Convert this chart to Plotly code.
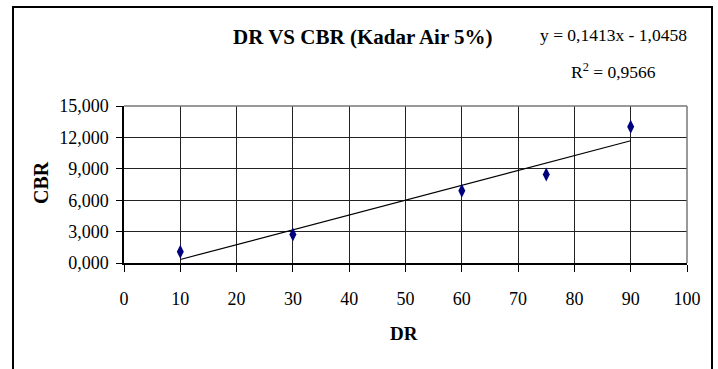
import numpy as np
import plotly.graph_objects as go

# ---- data ----
dr_values = [10, 30, 60, 75, 90]
cbr_values = [1.08, 2.72, 6.90, 8.45, 13.02]
x_ticks = [0, 10, 20, 30, 40, 50, 60, 70, 80, 90, 100]
y_ticks = [0, 3, 6, 9, 12, 15]
title_text = "DR VS CBR (Kadar Air 5%)"
equation_text = "y = 0,1413x - 1,0458"
r2_text = "R<sup>2</sup> = 0,9566"

W, H = 718, 369
L, R, T, B = 124, 31, 106, 106
PW, PH = W - L - R, H - T - B


def px(x):
    return (x - L) / PW


def py(y):
    return (H - B - y) / PH


slope, intercept = np.polyfit(dr_values, cbr_values, 1)
fit_x = [min(dr_values), max(dr_values)]
fit_y = [slope * v + intercept for v in fit_x]

font = "Liberation Serif, Times New Roman, serif"

fig = go.Figure()
fig.add_trace(go.Scatter(x=fit_x, y=fit_y, mode="lines",
                         line=dict(color="black", width=1.2),
                         hoverinfo="skip", showlegend=False))
fig.add_trace(go.Scatter(x=dr_values, y=cbr_values, mode="markers",
                         marker=dict(symbol="diamond-tall", size=10, color="#00007f"),
                         showlegend=False))

fig.update_layout(
    width=W, height=H,
    margin=dict(l=L, r=R, t=T, b=B, autoexpand=False),
    paper_bgcolor="white", plot_bgcolor="white",
    separators=",.",
    font=dict(family=font, size=18, color="black"),
    xaxis=dict(range=[0, 100], tickvals=x_ticks, showgrid=True,
               gridcolor="#222", gridwidth=1, showline=True,
               linecolor="black", linewidth=1.5, ticks="outside",
               ticklen=7, tickcolor="black", ticklabelstandoff=12,
               zeroline=False, fixedrange=True, automargin=False),
    yaxis=dict(range=[0, 15], tickvals=y_ticks, tickformat=".3f",
               showgrid=True, gridcolor="#222", gridwidth=1,
               showline=True, linecolor="black", linewidth=1.5,
               ticks="outside", ticklen=6, tickcolor="black",
               ticklabelstandoff=4, zeroline=False, fixedrange=True,
               automargin=False),
    shapes=[dict(type="rect", xref="paper", yref="paper",
                 x0=px(13), x1=px(712), y0=py(7), y1=py(390),
                 line=dict(color="black", width=2), layer="below"),
            dict(type="line", xref="paper", yref="paper",
                 x0=0, x1=1, y0=1, y1=1, line=dict(color="#777", width=1.5)),
            dict(type="line", xref="paper", yref="paper",
                 x0=1, x1=1, y0=0, y1=1, line=dict(color="#777", width=1.5))],
    annotations=[
        dict(text=f"<b>{title_text}</b>", xref="paper", yref="paper",
             x=px(363), y=py(37), xanchor="center", yanchor="middle",
             showarrow=False, font=dict(size=21, family=font)),
        dict(text=equation_text, xref="paper", yref="paper",
             x=px(689), y=py(35), xanchor="right", yanchor="middle",
             showarrow=False, font=dict(size=17.5, family=font)),
        dict(text=r2_text, xref="paper", yref="paper",
             x=px(658), y=py(71), xanchor="right", yanchor="middle",
             showarrow=False, font=dict(size=17.5, family=font)),
        dict(text="<b>DR</b>", xref="paper", yref="paper",
             x=px(404), y=py(333), xanchor="center", yanchor="middle",
             showarrow=False, font=dict(size=19, family=font)),
        dict(text="<b>CBR</b>", xref="paper", yref="paper",
             x=px(41), y=py(183), xanchor="center", yanchor="middle",
             showarrow=False, textangle=-90,
             font=dict(size=20, family=font)),
    ],
)

fig.write_html("out.html", config={"displayModeBar": False},
               post_script="document.body.style.margin='0';document.body.style.overflow='hidden';")
